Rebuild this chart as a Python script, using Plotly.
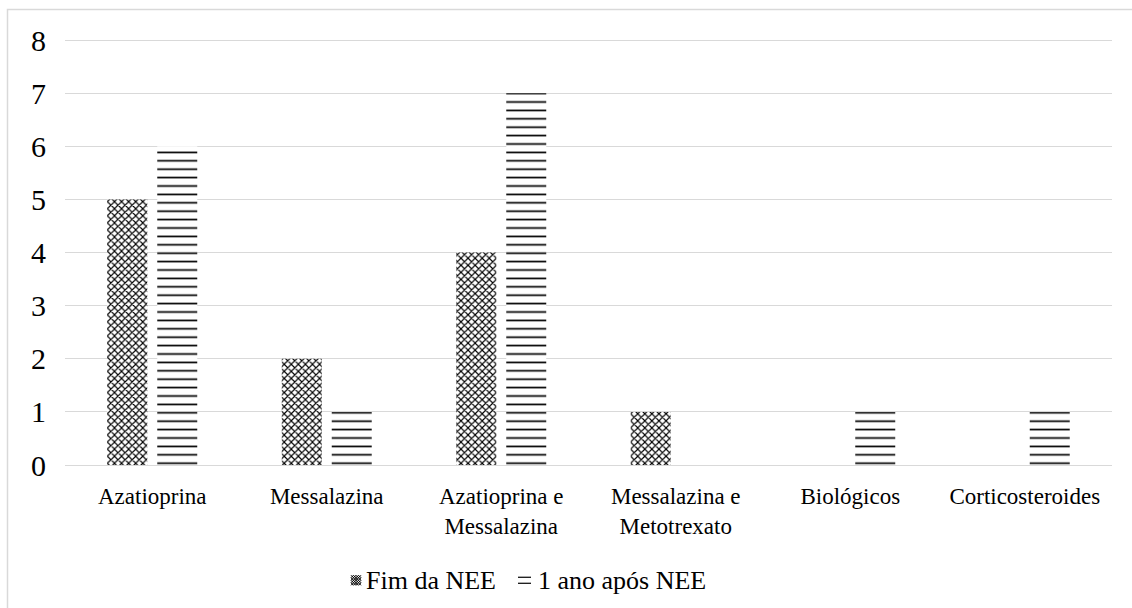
import plotly.graph_objects as go

categories = ["Azatioprina", "Messalazina", "Azatioprina e<br>Messalazina",
              "Messalazina e<br>Metotrexato", "Biológicos", "Corticosteroides"]
series_names = ["Fim da NEE", "1 ano após NEE"]
fim_nee = [5, 2, 4, 1, 0, 0]
um_ano_apos = [6, 1, 7, 0, 1, 1]
y_ticks = [0, 1, 2, 3, 4, 5, 6, 7, 8]

W, H = 1132, 608
L, R, T, B = 65, 1112, 40, 465  # plot area in pixels

def px_x(p):
    return (p - L) / (R - L)

def px_y(p):
    return (B - p) / (B - T)

FONT = "Liberation Serif"
GRID = "#d9d9d9"

fig = go.Figure()
fig.add_trace(go.Bar(
    name=series_names[0], x=categories, y=fim_nee, showlegend=False,
    marker=dict(color="white", line=dict(width=0),
                pattern=dict(shape="x", size=5, solidity=0.4,
                             fgcolor="black", bgcolor="white", fillmode="replace")),
))
fig.add_trace(go.Bar(
    name=series_names[1], x=categories, y=um_ano_apos, showlegend=False,
    marker=dict(color="white", line=dict(width=0),
                pattern=dict(shape="-", size=8.4, solidity=0.2,
                             fgcolor="black", bgcolor="white", fillmode="replace")),
))

# Legend drawn by hand: small swatches plus serif labels
legend_y = 580
sw1_x0 = 351
sw2_x0, sw2_x1 = 518, 531
lab1_x, lab2_x = 364, 536


def clip_to_box(ua, va, ub, vb, size=10.0):
    """Clip a segment to the square [0,size]x[0,size]."""
    du, dv = ub - ua, vb - va
    t0, t1 = 0.0, 1.0
    for p_, q_ in ((-du, ua), (du, size - ua), (-dv, va), (dv, size - va)):
        if p_ == 0:
            if q_ < 0:
                return None
            continue
        r_ = q_ / p_
        if p_ < 0:
            t0 = max(t0, r_)
        else:
            t1 = min(t1, r_)
    if t0 >= t1:
        return None
    return (ua + t0 * du, va + t0 * dv, ua + t1 * du, va + t1 * dv)


# crosshatch swatch for the first series
hatch = []
k = -10.0
while k <= 10.0:
    for seg in (clip_to_box(0, k, 10, 10 + k), clip_to_box(0, 10 + k, 10, k)):
        if seg:
            a, b, c, d = seg
            hatch.append("M{:.4f},{:.4f} L{:.4f},{:.4f}".format(
                px_x(sw1_x0 + a), px_y(legend_y - 5 + b),
                px_x(sw1_x0 + c), px_y(legend_y - 5 + d)))
    k += 2.5

shapes = [
    dict(type="rect", xref="paper", yref="paper",
         x0=px_x(7.5), x1=px_x(1140), y0=px_y(620), y1=px_y(10.5),
         line=dict(color=GRID, width=1.5), layer="below"),
    dict(type="path", xref="paper", yref="paper", path=" ".join(hatch),
         line=dict(color="black", width=1)),
    dict(type="line", xref="paper", yref="paper",
         x0=px_x(sw2_x0), x1=px_x(sw2_x1), y0=px_y(legend_y - 3), y1=px_y(legend_y - 3),
         line=dict(color="black", width=1.2)),
    dict(type="line", xref="paper", yref="paper",
         x0=px_x(sw2_x0), x1=px_x(sw2_x1), y0=px_y(legend_y + 3), y1=px_y(legend_y + 3),
         line=dict(color="black", width=1.2)),
]

annotations = [
    dict(text=series_names[0], xref="paper", yref="paper", x=px_x(lab1_x), y=px_y(legend_y),
         xanchor="left", yanchor="middle", showarrow=False,
         font=dict(family="Liberation Serif, Times New Roman, serif", size=26, color="black")),
    dict(text=series_names[1], xref="paper", yref="paper", x=px_x(lab2_x), y=px_y(legend_y),
         xanchor="left", yanchor="middle", showarrow=False,
         font=dict(family="Liberation Serif, Times New Roman, serif", size=26, color="black")),
]

fig.update_layout(
    width=W, height=H,
    margin=dict(l=L, r=W - R, t=T - 1, b=H - B),
    paper_bgcolor="white", plot_bgcolor="white",
    barmode="group", bargap=0.427, bargroupgap=0.2,
    font=dict(family=FONT, color="black", size=23),
    showlegend=False,
    xaxis=dict(showgrid=False, showline=True, linecolor=GRID, linewidth=1,
               ticks="", ticklabelstandoff=10, tickfont=dict(size=23, family=FONT)),
    yaxis=dict(range=[0, 8.02], tickvals=y_ticks, showgrid=True, gridcolor=GRID,
               gridwidth=1, zeroline=False, showline=False, ticks="",
               ticklabelstandoff=18, tickfont=dict(size=30, family=FONT)),
    shapes=shapes,
    annotations=annotations,
)

fig.write_html("out.html")
